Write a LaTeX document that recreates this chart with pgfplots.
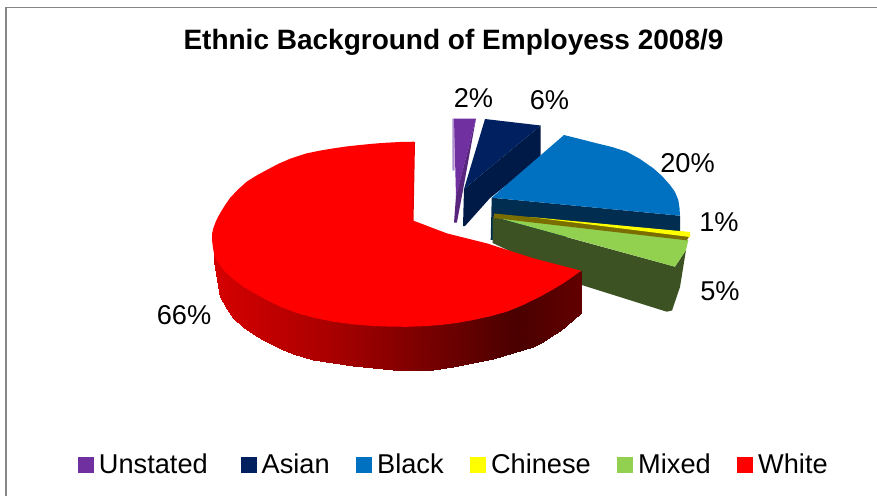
\documentclass[border=0pt]{standalone}
\usepackage{pgfplots}
\pgfplotsset{compat=1.18}
\usepackage{fontspec}
\setmainfont{Liberation Sans}

\definecolor{unstated}{RGB}{112,48,160}
\definecolor{unstatedside}{RGB}{88,38,125}
\definecolor{unstatededge}{RGB}{175,140,205}
\definecolor{asian}{RGB}{0,32,96}
\definecolor{asianside}{RGB}{0,26,72}
\definecolor{black2}{RGB}{0,112,192}
\definecolor{blackside}{RGB}{0,45,80}
\definecolor{chinese}{RGB}{255,255,0}
\definecolor{chineseside}{RGB}{122,110,0}
\definecolor{mixed}{RGB}{146,208,80}
\definecolor{mixedside}{RGB}{61,82,35}
\definecolor{whiteinner}{RGB}{232,0,0}
\definecolor{framegray}{RGB}{134,134,134}

\pgfplotsset{
  colormap={whiteside}{rgb255(214)=(214,0,0); rgb255(333)=(168,0,0); rgb255(433)=(117,0,0); rgb255(517)=(74,0,0); rgb255(581)=(98,0,0)},
  face/.style={draw=none, fill=#1, forget plot},
  swatch/.style={legend image code/.code={\fill[#1] (0pt,-7.5pt) rectangle (15pt,7.5pt);}},
}

\newcommand{\lab}[3]{\node[font=\fontsize{27.2}{30}\selectfont, anchor=center, inner sep=0pt] at (axis cs:#1,#2) {#3};}

\begin{document}
\begin{tikzpicture}
\begin{axis}[
  scale only axis, width=877pt, height=496pt,
  xmin=0, xmax=877, ymin=0, ymax=496, y dir=reverse,
  axis lines=none,
  point meta min=214, point meta max=581,
  legend columns=6,
  legend style={draw=none, fill=none, at={(axis cs:78,464.5)}, anchor=west,
    inner sep=0pt, outer sep=0pt,
    font=\fontsize{27.2}{30}\selectfont, nodes={inner xsep=0pt, inner ysep=0pt},
    /tikz/every odd column/.style={column sep=5.5pt},
    /tikz/every even column/.style={column sep=26.5pt}},
  legend cell align=left,
]
% page background and chart frame
\addplot[face=white] coordinates {(0,0) (877,0) (877,496) (0,496)} --cycle;
\addplot[framegray, line width=1.6pt, forget plot] coordinates {(6,496) (6,7.5) (877,7.5)};

% Unstated 2%
\addplot[face=unstatededge] coordinates {(452.3,118.5) (454.5,118.5) (454.5,170) (452.5,171)} --cycle;
\addplot[face=unstatedside] coordinates {(476,118.5) (462.7,191.7) (456.9,222.5) (454,222.5) (456,196)} --cycle;
\addplot[face=unstated] coordinates {(454,118.5) (476,118.5) (456,197)} --cycle;

% Asian 6%
\addplot[face=asianside] coordinates {(540.7,125.5) (540.7,158) (490,198) (465,226) (463,226) (464,189)} --cycle;
\addplot[face=asian] coordinates {(485,119) (540.7,125.5) (464,189)} --cycle;

% Black 20%
\addplot[face=blackside] coordinates {(491.7,197.7) (680,215.7) (680,233) (490.7,240)} --cycle;
\addplot[face=black2] coordinates {(491.7,197.7) (564,135) (580,139) (596.7,143.3) (612,147) (626.7,151.7) (640,159) (653.3,168.3) (662,176) (670,185) (675,192) (678.3,200) (679.5,208) (680,215.7)} --cycle;

% Mixed 5%
\addplot[face=mixedside] coordinates {(492.7,217) (675,266.7) (686,250) (680,287) (672,310.5) (666.7,311.7) (581.7,285) (492.7,243)} --cycle;
\addplot[face=mixed] coordinates {(493.3,216.7) (688.3,240) (686,250) (675,266.7)} --cycle;

% Chinese 1%
\addplot[face=chineseside] coordinates {(494,213.5) (690,232.5) (689,237) (686.7,240.3) (494,218)} --cycle;
\addplot[face=chinese] coordinates {(530,217) (690,232) (690,237)} --cycle;

% White 66%: shaded rim (its upper row runs under the top face), cut face, top
\addplot[surf, shader=interp, colormap name=whiteside, point meta=x, mesh/ordering=x varies, forget plot] table {
x y
214 252
220 260
226.6 268
233.3 275.5
243.3 284
253.3 289.5
263.3 295
273.3 300.5
283 305
293.3 309
313.3 315
333.3 319
353.3 321.5
373.3 323.5
393.3 324
413.3 324
433.3 322.5
453.3 320.5
473.3 317.5
493.3 312.5
513.3 306.5
523.3 302.5
533.3 297.5
543.3 292.5
553.3 286.5
560 282.5
566.7 278.5
574 274
581 270.7

214 262
220 296.7
226.6 308.5
233.3 318.3
243.3 327
253.3 334
263.3 340
273.3 345
283 350
293.3 354
313.3 360
333.3 363.3
353.3 366
373.3 368
393.3 370
413.3 370.7
433.3 370
453.3 366.7
473.3 363.3
493.3 358.7
513.3 352.7
523.3 350
533.3 346.7
543.3 341.5
553.3 335
560 330.5
566.7 325
574 319
581 312.7
};
\addplot[face=whiteinner] coordinates {(411,142) (415,142) (413.5,222) (411,222)} --cycle;
\addplot[face=red] coordinates {
  (414,141.7) (400,142) (386.7,142.7) (373,143.7) (360,145) (346,146.5) (333.3,148.4)
  (320,150.6) (306,153.5) (290,158.8) (278,164) (266.7,170) (256,175.8) (246.7,181.7)
  (238,189.5) (230,198) (224.5,206) (220,213.3) (216,221) (213.3,228.3) (212,234) (212,240)
  (213,248) (214.5,256) (218.5,263) (225,271.7) (234,279.5) (243.3,286.7) (255,293.5)
  (266.7,300) (281,307) (296.7,313) (315,318) (333.3,321.7) (353,324.3) (373.3,326)
  (390,326.6) (406.7,326.8) (423,326.2) (440,325) (456.5,323) (473.3,320) (490,316.3)
  (506.7,311.7) (523,305) (540,296.7) (552,290) (563.3,283.3) (572,277.3) (581,270.7)
  (533.3,258.3) (486.7,243.3) (446.7,233.3) (411.7,220)} --cycle;

% legend keys in the series' order
\addlegendimage{swatch=unstated}
\addlegendentry{Unstated\rule{6.5pt}{0pt}}
\addlegendimage{swatch=asian}
\addlegendentry{Asian}
\addlegendimage{swatch=black2}
\addlegendentry{Black}
\addlegendimage{swatch=chinese}
\addlegendentry{Chinese}
\addlegendimage{swatch=mixed}
\addlegendentry{Mixed}
\addlegendimage{swatch=red}
\addlegendentry{White}

% title and percentage labels
\node[font=\fontsize{28}{30}\selectfont\bfseries, anchor=center, inner sep=0pt] at (axis cs:453.5,42.5) {Ethnic Background of Employess 2008/9};
\lab{473.5}{98}{2\%}
\lab{549.5}{100.5}{6\%}
\lab{687.5}{163}{20\%}
\lab{719}{222}{1\%}
\lab{720}{291}{5\%}
\lab{184}{315}{66\%}
\end{axis}
\end{tikzpicture}
\end{document}
